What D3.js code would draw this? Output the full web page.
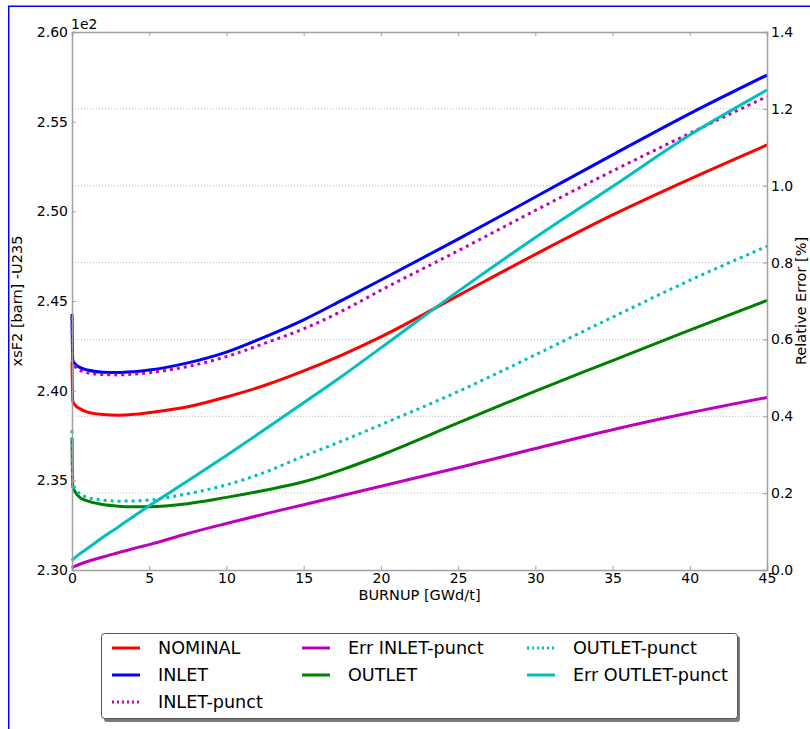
<!DOCTYPE html>
<html>
<head>
<meta charset="utf-8">
<script src="https://cdn.jsdelivr.net/npm/d3@7"></script>
<style>
  body { margin: 0; background: #fff; }
  svg { display: block; font-family: "DejaVu Sans", sans-serif; }
</style>
</head>
<body>
<div id="chart"></div>
<script>
// ---- data ----
const burnup = [0, 0.05, 0.25, 0.5, 1, 2, 3, 4, 5, 7.5, 10, 12.5, 15, 17.5, 20, 25, 30, 35, 40, 45];

// left axis (x 1e2 barn)
const nominal     = [2.416, 2.394, 2.3915, 2.390, 2.388, 2.3867, 2.3863, 2.3868, 2.3878, 2.391, 2.3965, 2.4030, 2.4110, 2.4200, 2.4300, 2.4530, 2.4760, 2.4980, 2.5180, 2.537];
const inlet       = [2.4427, 2.417, 2.4145, 2.413, 2.4115, 2.4103, 2.4101, 2.4106, 2.4115, 2.4155, 2.4215, 2.430, 2.4395, 2.4505, 2.4617, 2.4845, 2.508, 2.5315, 2.5545, 2.576];
const inletPunct  = [2.441, 2.416, 2.413, 2.4115, 2.410, 2.409, 2.4088, 2.4092, 2.410, 2.4135, 2.419, 2.4265, 2.4345, 2.4445, 2.456, 2.478, 2.5005, 2.5225, 2.5435, 2.564];
const outlet      = [2.3735, 2.3465, 2.343, 2.3405, 2.3385, 2.3365, 2.3356, 2.3353, 2.3353, 2.337, 2.3405, 2.3445, 2.3492, 2.3560, 2.3640, 2.3820, 2.3998, 2.4168, 2.4338, 2.4503];
const outletPunct = [2.378, 2.348, 2.345, 2.3425, 2.3405, 2.339, 2.3384, 2.3385, 2.339, 2.3425, 2.3475, 2.3545, 2.3635, 2.372, 2.381, 2.3995, 2.42, 2.441, 2.4615, 2.4805];

// right axis (relative error %)
const errInletPunct  = [0.005, 0.007, 0.011, 0.015, 0.022, 0.034, 0.045, 0.056, 0.066, 0.095, 0.121, 0.146, 0.170, 0.194, 0.218, 0.266, 0.316, 0.365, 0.409, 0.449];
const errOutletPunct = [0.024, 0.027, 0.034, 0.042, 0.056, 0.085, 0.112, 0.140, 0.167, 0.232, 0.298, 0.366, 0.435, 0.505, 0.578, 0.725, 0.865, 0.998, 1.132, 1.249];

const xTicks = [0, 5, 10, 15, 20, 25, 30, 35, 40, 45];
const yLeftTicks = [2.30, 2.35, 2.40, 2.45, 2.50, 2.55, 2.60];
const yRightTicks = [0.0, 0.2, 0.4, 0.6, 0.8, 1.0, 1.2, 1.4];

const series = [
  {name: "NOMINAL",          values: nominal,        axis: "L", color: "#ff0000", dash: null},
  {name: "INLET",            values: inlet,          axis: "L", color: "#0000ff", dash: null},
  {name: "INLET-punct",      values: inletPunct,     axis: "L", color: "#bf00bf", dash: "3,4"},
  {name: "Err INLET-punct",  values: errInletPunct,  axis: "R", color: "#bf00bf", dash: null},
  {name: "OUTLET",           values: outlet,         axis: "L", color: "#008000", dash: null},
  {name: "OUTLET-punct",     values: outletPunct,    axis: "L", color: "#00bfbf", dash: "3,4"},
  {name: "Err OUTLET-punct", values: errOutletPunct, axis: "R", color: "#00bfbf", dash: null}
];

// ---- layout ----
const W = 810, H = 729;
const m = {left: 72, top: 32, right: 810 - 767, bottom: 729 - 570};
const iw = W - m.left - m.right, ih = H - m.top - m.bottom;

const svg = d3.select("#chart").append("svg").attr("width", W).attr("height", H);

// figure frame (blue)
svg.append("rect").attr("x", 8.75).attr("y", 6.25).attr("width", W + 10).attr("height", H + 10)
  .attr("fill", "none").attr("stroke", "#0000ff").attr("stroke-width", 1.5);

const x = d3.scaleLinear().domain([0, 45]).range([0, iw]);
const yL = d3.scaleLinear().domain([2.30, 2.60]).range([ih, 0]);
const yR = d3.scaleLinear().domain([0, 1.4]).range([ih, 0]);

const g = svg.append("g").attr("transform", `translate(${m.left},${m.top})`);

// grid (from right axis ticks)
g.append("g").selectAll("line").data(yRightTicks.filter(d => d > 0 && d < 1.4)).join("line")
  .attr("x1", 0).attr("x2", iw).attr("y1", d => yR(d)).attr("y2", d => yR(d))
  .attr("stroke", "#b8b8b8").attr("stroke-width", 1).attr("stroke-dasharray", "1,2");

svg.append("defs").append("clipPath").attr("id", "clip")
  .append("rect").attr("x", -2).attr("y", -2).attr("width", iw + 4).attr("height", ih + 4);

const lines = g.append("g").attr("clip-path", "url(#clip)");
const draw = s => {
  const ys = s.axis === "L" ? yL : yR;
  const line = d3.line().x((d, i) => x(burnup[i])).y(d => ys(d)).curve(d3.curveMonotoneX);
  lines.append("path").datum(s.values).attr("d", line)
    .attr("fill", "none").attr("stroke", s.color).attr("stroke-width", 3)
    .attr("stroke-dasharray", s.dash).attr("stroke-linejoin", "round");
};
series.filter(s => s.axis === "L").forEach(draw);
series.filter(s => s.axis === "R").forEach(draw);

// axes
const spine = "#a0a0a0";
const axB = g.append("g").attr("transform", `translate(0,${ih})`)
  .call(d3.axisBottom(x).tickValues(xTicks).tickSize(-4).tickPadding(3).tickFormat(d3.format("d")));
const axT = g.append("g").call(d3.axisTop(x).tickValues(xTicks).tickSize(-4).tickFormat(""));
const axL = g.append("g").call(d3.axisLeft(yL).tickValues(yLeftTicks).tickSize(-4).tickPadding(4).tickFormat(d3.format(".2f")));
const axR = g.append("g").attr("transform", `translate(${iw},0)`)
  .call(d3.axisRight(yR).tickValues(yRightTicks).tickSize(-4).tickPadding(4).tickFormat(d3.format(".1f")));
[axB, axT, axL, axR].forEach(a => {
  a.select(".domain").attr("stroke", spine).attr("stroke-width", 1.5);
  a.selectAll(".tick line").attr("stroke", spine);
  a.selectAll(".tick text").attr("fill", "#000").style("font-size", "14px").style("font-family", "DejaVu Sans");
});
axB.selectAll(".tick text").attr("dy", "0.71em");

// offset text
svg.append("text").attr("x", 71).attr("y", 29).text("1e2")
  .style("font-size", "14px").attr("fill", "#000");

// axis labels
svg.append("text").attr("x", m.left + iw / 2).attr("y", 600).attr("text-anchor", "middle")
  .style("font-size", "14.5px").text("BURNUP [GWd/t]");
svg.append("text").attr("transform", `translate(22,${m.top + ih / 2}) rotate(-90)`)
  .attr("text-anchor", "middle").style("font-size", "14.5px").text("xsF2 [barn] -U235");
svg.append("text").attr("transform", `translate(806,${m.top + ih / 2}) rotate(-90)`)
  .attr("text-anchor", "middle").style("font-size", "14.5px").text("Relative Error [%]");

// legend
const lg = svg.append("g");
lg.append("rect").attr("x", 104).attr("y", 636).attr("width", 636).attr("height", 86).attr("rx", 3)
  .attr("fill", "#7a7a7a");
lg.append("rect").attr("x", 101.5).attr("y", 633.5).attr("width", 636).attr("height", 85).attr("rx", 3)
  .attr("fill", "#fff").attr("stroke", "#555").attr("stroke-width", 1);
const colX = [112, 302, 527];
const rowY = [648, 675, 702];
const layout = [[0, 0], [0, 1], [0, 2], [1, 0], [1, 1], [2, 0], [2, 1]];
series.forEach((s, i) => {
  const [c, r] = layout[i];
  const lx = colX[c], ly = rowY[r];
  lg.append("line").attr("x1", lx).attr("x2", lx + 28).attr("y1", ly).attr("y2", ly)
    .attr("stroke", s.color).attr("stroke-width", 3).attr("stroke-dasharray", s.dash ? "2,3" : null);
  lg.append("text").attr("x", lx + 46).attr("y", ly).attr("dy", "0.36em")
    .style("font-size", "17.6px").attr("fill", "#000").text(s.name);
});
</script>
</body>
</html>
